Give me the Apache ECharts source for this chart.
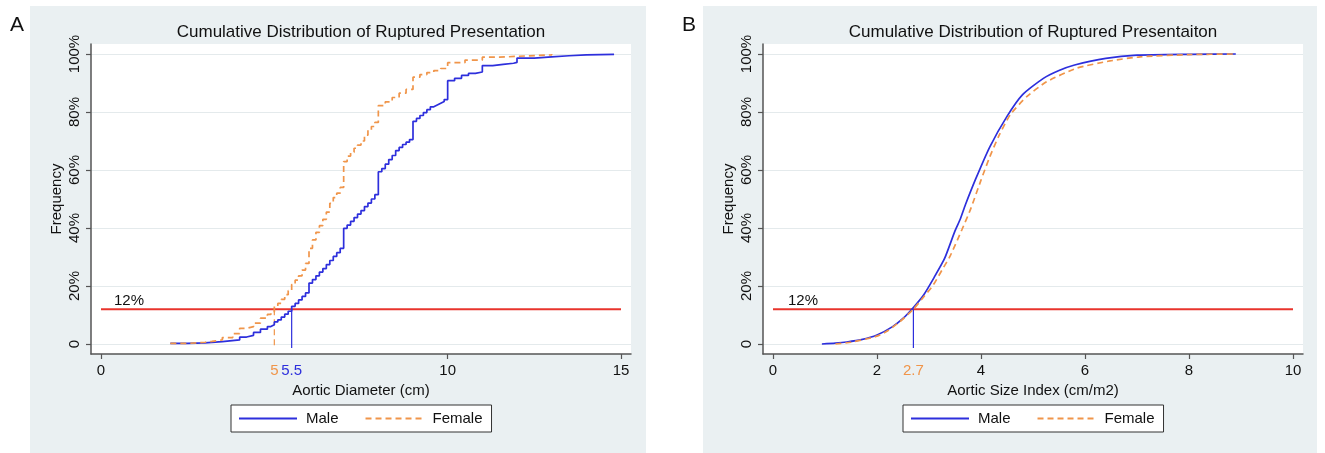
<!DOCTYPE html>
<html>
<head>
<meta charset="utf-8">
<script src="https://cdn.jsdelivr.net/npm/echarts@6/dist/echarts.min.js"></script>
<style>
  html, body { margin: 0; padding: 0; background: #fff; }
  #chart { width: 1325px; height: 453px; }
</style>
</head>
<body>
<div id="chart"></div>
<script>
// panel A: aortic diameter (cm), empirical CDF in %
const maleDiam = [2.0, 2.5, 3.0, 3.5, 4.0, 4.2, 4.4, 4.6, 4.8, 4.9, 5.0, 5.1, 5.2, 5.3, 5.4, 5.5, 5.6, 5.7, 5.8, 5.9,
  6.0, 6.1, 6.2, 6.3, 6.4, 6.5, 6.6, 6.7, 6.8, 6.9, 7.0, 7.1, 7.2, 7.3, 7.4, 7.5, 7.6, 7.7, 7.8, 7.9,
  8.0, 8.1, 8.2, 8.3, 8.4, 8.5, 8.6, 8.7, 8.8, 8.9, 9.0, 9.1, 9.2, 9.3, 9.4, 9.5, 9.6, 9.7, 9.8, 9.9,
  10.0, 10.2, 10.4, 10.6, 10.8, 11.0, 11.3, 11.6, 11.9, 12.0, 12.5, 13.0, 13.5, 14.0, 14.8];
const maleDiamPct = [0.2, 0.4, 0.8, 1.4, 2.4, 3.0, 4.0, 5.1, 6.0, 6.6, 7.6, 8.3, 9.3, 10.3, 11.3, 13.0, 14.0, 15.2, 16.4, 17.6,
  21.0, 22.2, 23.5, 24.8, 26.0, 27.4, 28.8, 30.2, 31.5, 33.0, 39.9, 41.0, 42.3, 43.6, 44.8, 46.0, 47.4, 48.6, 50.0, 51.5,
  59.4, 60.5, 62.0, 63.6, 65.0, 66.7, 67.8, 68.8, 69.6, 70.5, 76.8, 77.8, 78.8, 79.8, 80.8, 81.8, 82.4, 83.0, 83.6, 84.3,
  90.8, 91.6, 92.6, 93.3, 93.8, 96.0, 96.4, 96.8, 97.1, 98.6, 99.0, 99.4, 99.7, 99.9, 100];
const femaleDiam = [2.0, 2.5, 2.8, 3.0, 3.2, 3.5, 3.8, 4.0, 4.2, 4.4, 4.6, 4.8, 4.9, 5.0, 5.1, 5.2, 5.3, 5.4, 5.5, 5.6, 5.7, 5.8, 5.9,
  6.0, 6.1, 6.2, 6.3, 6.4, 6.5, 6.6, 6.7, 6.8, 6.9, 7.0, 7.1, 7.2, 7.3, 7.4, 7.5, 7.6, 7.7, 7.8, 7.9,
  8.0, 8.2, 8.4, 8.6, 8.8, 9.0, 9.2, 9.4, 9.6, 9.8, 10.0, 10.5, 11.0, 11.5, 12.0, 13.0];
const femaleDiamPct = [0.2, 0.4, 0.6, 0.9, 1.4, 2.2, 3.6, 5.4, 6.0, 7.2, 8.9, 10.2, 11.0, 13.0, 14.0, 15.4, 17.0, 18.4, 20.5, 22.0, 23.5, 25.5, 27.8,
  33.0, 35.9, 38.5, 40.8, 43.0, 45.5, 48.5, 50.5, 52.0, 54.0, 62.9, 64.8, 66.1, 67.5, 68.6, 70.0, 72.0, 73.8, 75.0, 76.4,
  82.2, 83.5, 85.0, 86.5, 87.8, 92.0, 92.9, 93.6, 94.3, 95.0, 97.0, 97.9, 98.9, 99.2, 99.7, 100];

// panel B: aortic size index (cm/m2)
const maleAsi = [0.94, 1.2, 1.42, 1.7, 2.0, 2.3, 2.5, 2.7, 2.9, 3.1, 3.3, 3.5, 3.6, 3.7, 3.9, 4.17, 4.5, 4.8, 5.2, 5.5, 5.8, 6.4, 7.0, 8.0, 8.9];
const maleAsiPct = [0, 0.3, 0.7, 1.5, 3.1, 6.0, 8.8, 12.6, 17.0, 23.0, 29.5, 39.0, 43.0, 48.0, 57.0, 68.0, 78.5, 86.0, 91.6, 94.3, 96.2, 98.5, 99.6, 99.9, 100];
const femaleAsi = [1.2, 1.5, 2.0, 2.2, 2.44, 2.7, 2.9, 3.08, 3.25, 3.4, 3.63, 3.8, 4.0, 4.17, 4.35, 4.56, 4.88, 5.26, 5.84, 6.48, 7.06, 8.0, 8.9];
const femaleAsiPct = [0, 0.6, 2.7, 4.5, 7.7, 12.0, 16.3, 20.3, 25.5, 30.1, 39.3, 46.5, 56.5, 64.6, 72.0, 79.0, 85.3, 90.4, 95.1, 97.6, 99.0, 99.8, 100];

// axes
const diamTicks = [0, 10, 15];
const diamLabels = [0, 5, 5.5, 10, 15];
const asiTicks = [0, 2, 4, 6, 8, 10];
const asiLabels = [0, 2, 2.7, 4, 6, 8, 10];
const pctTicks = [0, 20, 40, 60, 80, 100];

// reference lines
const threshold = 12;
const cutFemaleDiam = 5;
const cutMaleDiam = 5.5;
const cutAsi = 2.7;
const dropTo = -1.4;

const BLUE = '#2d2fdc';
const ORANGE = '#f0954a';
const RED = '#e8342c';
const INK = '#111';
const FONT = 'Liberation Sans, Arial, sans-serif';

const pairs = (xs, ys) => xs.map((x, i) => [x, ys[i]]);

const xAxisFor = (gridIndex, min, max, ticks, labels, name, accent) => ({
  type: 'value',
  gridIndex,
  min,
  max,
  name,
  nameLocation: 'middle',
  nameGap: 26,
  nameTextStyle: { color: INK, fontSize: 15, fontFamily: FONT },
  axisLine: { show: true, onZero: false, lineStyle: { color: '#555', width: 1.5 } },
  axisTick: { show: true, length: 5, customValues: ticks, lineStyle: { color: '#555', width: 1.2 } },
  axisLabel: {
    customValues: labels,
    margin: 9,
    color: INK,
    fontSize: 15,
    fontFamily: FONT,
    formatter: v => accent[v] ? `{${accent[v]}|${v}}` : String(v),
    rich: {
      o: { color: ORANGE, fontSize: 15, fontFamily: FONT },
      b: { color: BLUE, fontSize: 15, fontFamily: FONT },
    },
  },
  splitLine: { show: false },
});

const yAxisFor = gridIndex => ({
  type: 'value',
  gridIndex,
  min: -3.448,
  max: 103.448,
  name: 'Frequency',
  nameLocation: 'middle',
  nameRotate: 90,
  nameGap: 27,
  nameTextStyle: { color: INK, fontSize: 15, fontFamily: FONT },
  axisLine: { show: true, onZero: false, lineStyle: { color: '#555', width: 1.5 } },
  axisTick: { show: true, length: 5, customValues: pctTicks, lineStyle: { color: '#555', width: 1.2 } },
  axisLabel: {
    customValues: pctTicks,
    rotate: 90,
    margin: 9,
    color: INK,
    fontSize: 15,
    fontFamily: FONT,
    formatter: v => (v === 0 ? '0' : v + '%'),
  },
  splitLine: { show: true, lineStyle: { color: '#e4eaec', width: 1 } },
});

const curve = (name, idx, data, color, dashed, step, smooth) => ({
  name,
  type: 'line',
  xAxisIndex: idx,
  yAxisIndex: idx,
  data,
  step,
  smooth,
  symbol: 'none',
  lineStyle: { color, width: 1.7, type: dashed ? [6, 4] : 'solid' },
  itemStyle: { color },
  emphasis: { disabled: true },
  z: 4,
});

const thresholdLine = (idx, xEnd) => ({
  type: 'line',
  xAxisIndex: idx,
  yAxisIndex: idx,
  symbol: 'none',
  silent: true,
  lineStyle: { color: RED, width: 2 },
  data: [[0, threshold], [xEnd, threshold]],
  z: 3,
});

// "12%" text sitting on the left end of the threshold line
const thresholdLabel = (idx, labelGap) => ({
  type: 'scatter',
  xAxisIndex: idx,
  yAxisIndex: idx,
  symbolSize: 0,
  silent: true,
  itemStyle: { opacity: 1 },
  data: [[0, threshold]],
  label: {
    show: true,
    formatter: threshold + '%',
    position: 'right',
    distance: labelGap,
    offset: [0, -8],
    color: INK,
    opacity: 1,
    fontSize: 15,
    fontFamily: FONT,
  },
  z: 5,
});

const dropLine = (idx, x, color, dashed) => ({
  type: 'line',
  xAxisIndex: idx,
  yAxisIndex: idx,
  symbol: 'none',
  silent: true,
  lineStyle: { color, width: 1.2, type: dashed ? [6, 4] : 'solid' },
  data: [[x, threshold], [x, dropTo]],
  z: 3,
});

const legendFor = left => ({
  left,
  top: 405,
  orient: 'horizontal',
  data: ['Male', 'Female'],
  itemWidth: 58,
  itemHeight: 12,
  itemGap: 26,
  padding: [6, 9, 6, 7],
  backgroundColor: '#fff',
  borderColor: '#333',
  borderWidth: 1,
  borderRadius: 0,
  itemStyle: { opacity: 0 },
  textStyle: { color: INK, fontSize: 15, fontFamily: FONT, padding: [0, 0, 0, 4] },
});

const text = (x, y, str, size) => ({
  type: 'text',
  x,
  y,
  z: 10,
  style: { text: str, fill: INK, font: `${size}px ${FONT}`, align: 'center', verticalAlign: 'middle' },
});

const chart = echarts.init(document.getElementById('chart'), null, { renderer: 'canvas' });

chart.setOption({
  animation: false,
  backgroundColor: '#fff',
  graphic: [
    { type: 'rect', z: -10, shape: { x: 30, y: 6, width: 616, height: 447 }, style: { fill: '#eaf0f2' } },
    { type: 'rect', z: -10, shape: { x: 703, y: 6, width: 614, height: 447 }, style: { fill: '#eaf0f2' } },
    text(17, 25, 'A', 21),
    text(689, 25, 'B', 21),
    text(361, 32, 'Cumulative Distribution of Ruptured Presentation', 17),
    text(1033, 32, 'Cumulative Distribution of Ruptured Presentaiton', 17),
  ],
  grid: [
    { left: 91, top: 44, width: 540, height: 310, show: true, backgroundColor: '#fff', borderWidth: 0 },
    { left: 763, top: 44, width: 540, height: 310, show: true, backgroundColor: '#fff', borderWidth: 0 },
  ],
  xAxis: [
    xAxisFor(0, -0.2885, 15.2885, diamTicks, diamLabels, 'Aortic Diameter (cm)', { 5: 'o', 5.5: 'b' }),
    xAxisFor(1, -0.1923, 10.1923, asiTicks, asiLabels, 'Aortic Size Index (cm/m2)', { 2.7: 'o' }),
  ],
  yAxis: [yAxisFor(0), yAxisFor(1)],
  legend: [legendFor(231), legendFor(903)],
  series: [
    thresholdLine(0, 15),
    thresholdLabel(0, 13),
    dropLine(0, cutFemaleDiam, ORANGE, true),
    dropLine(0, cutMaleDiam, BLUE, false),
    curve('Male', 0, pairs(maleDiam, maleDiamPct), BLUE, false, 'end', false),
    curve('Female', 0, pairs(femaleDiam, femaleDiamPct), ORANGE, true, 'end', false),

    thresholdLine(1, 10),
    thresholdLabel(1, 15),
    dropLine(1, cutAsi, BLUE, false),
    curve('Male', 1, pairs(maleAsi, maleAsiPct), BLUE, false, false, 0.2),
    curve('Female', 1, pairs(femaleAsi, femaleAsiPct), ORANGE, true, false, 0.2),
  ],
});

window.addEventListener('resize', () => chart.resize());
</script>
</body>
</html>
